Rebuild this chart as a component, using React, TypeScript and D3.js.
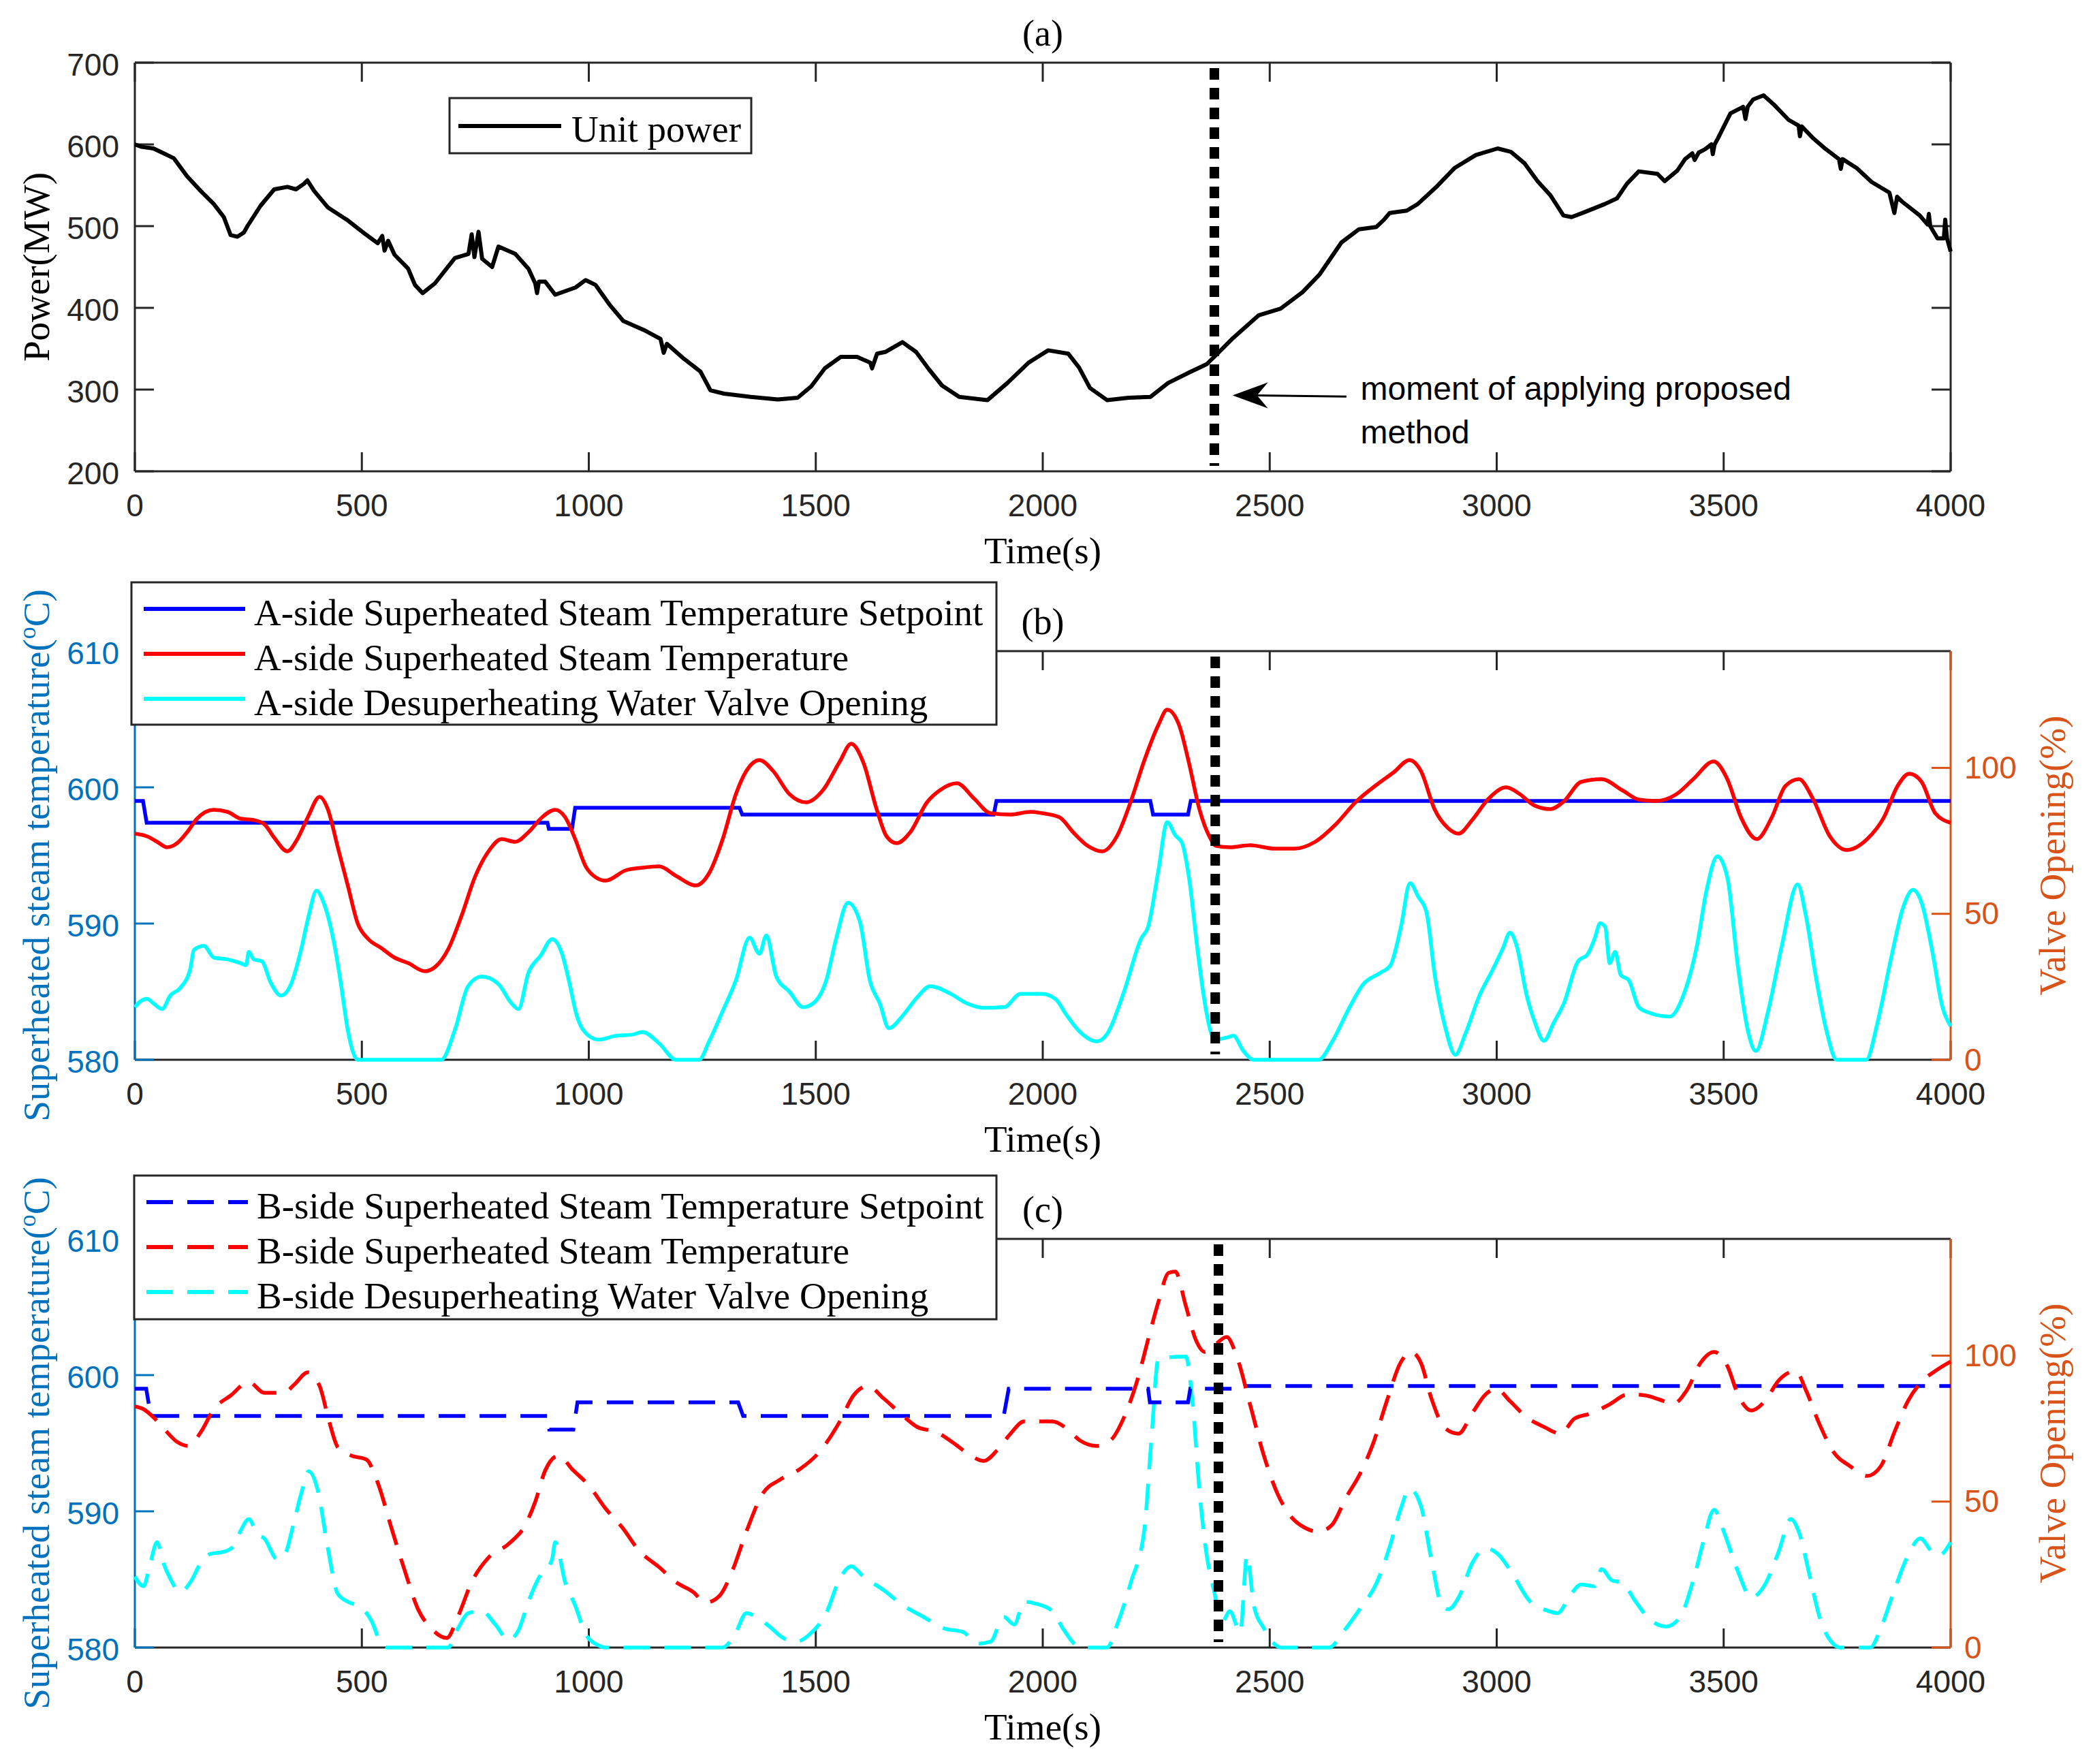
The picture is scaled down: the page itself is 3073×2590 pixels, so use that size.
import * as d3 from "d3";
import type { ReactNode } from "react";

type Pt = [number, number];

// ---- ticks ----
const timeTicks = [0, 500, 1000, 1500, 2000, 2500, 3000, 3500, 4000];
const powerTicks = [200, 300, 400, 500, 600, 700];
const tempTicks = [580, 590, 600, 610];
const valveTicks = [0, 50, 100];

// ---- (a) unit power, MW ----
const unitPower: Pt[] = [
  [0, 600], [15, 597], [41, 595], [60, 590], [86, 583], [115, 561], [145, 543], [174, 527], [196, 511],
  [211, 489], [226, 487], [240, 492], [248, 500], [277, 525], [307, 545], [336, 548], [355, 545], [373, 552],
  [380, 556], [395, 543], [425, 523], [469, 507], [506, 491], [535, 479], [545, 488], [550, 470], [558, 482],
  [572, 465], [602, 448], [617, 428], [634, 418], [661, 430], [705, 461], [735, 466], [742, 490], [748, 462],
  [757, 493], [765, 460], [787, 450], [801, 475], [838, 466], [867, 448], [882, 430], [886, 418], [890, 432],
  [904, 432], [926, 416], [971, 425], [993, 434], [1015, 428], [1047, 403], [1076, 384], [1121, 373],
  [1158, 362], [1165, 345], [1172, 356], [1209, 338], [1246, 322], [1268, 299], [1298, 295], [1357, 291],
  [1416, 288], [1460, 290], [1490, 304], [1520, 326], [1555, 340], [1591, 340], [1620, 333], [1624, 326],
  [1635, 344], [1653, 346], [1691, 358], [1721, 346], [1749, 325], [1778, 305], [1816, 291], [1878, 287],
  [1922, 308], [1969, 333], [2012, 348], [2056, 344], [2080, 327], [2104, 302], [2142, 287], [2189, 290],
  [2237, 291], [2276, 308], [2323, 321], [2361, 331], [2385, 344], [2419, 363], [2476, 391], [2524, 399],
  [2572, 419], [2610, 441], [2658, 480], [2696, 496], [2735, 499], [2752, 508], [2764, 516], [2802, 519],
  [2826, 527], [2869, 549], [2907, 571], [2954, 587], [3002, 595], [3031, 591], [3061, 577], [3090, 555],
  [3118, 538], [3147, 513], [3165, 511], [3193, 517], [3238, 527], [3265, 534], [3287, 552], [3313, 567],
  [3354, 564], [3370, 555], [3398, 568], [3415, 582], [3431, 589], [3436, 581], [3445, 590], [3459, 594],
  [3473, 600], [3476, 588], [3480, 600], [3487, 607], [3515, 638], [3543, 646], [3548, 631], [3553, 646],
  [3565, 655], [3588, 660], [3610, 649], [3643, 630], [3665, 623], [3668, 610], [3672, 622], [3698, 607],
  [3721, 596], [3754, 582], [3758, 570], [3762, 582], [3793, 571], [3826, 554], [3865, 541], [3876, 516],
  [3882, 536], [3893, 530], [3932, 513], [3949, 502], [3952, 515], [3955, 500], [3971, 485], [3985, 485],
  [3988, 508], [3992, 485], [4000, 469],
];

// ---- (b) A side ----
const setpointA: Pt[] = [
  [0, 599], [18, 599], [26, 597.4], [909, 597.4], [912, 596.95], [963, 596.95], [970, 598.5], [1332, 598.5],
  [1338, 598.0], [1892, 598.0], [1898, 599.0], [2237, 599.0], [2243, 598.0], [2320, 598.0], [2326, 599.0],
  [4000, 599.0],
];
const tempA: Pt[] = [
  [0, 596.6], [27, 596.4], [49, 596.0], [71, 595.6], [93, 595.9], [115, 596.7], [137, 597.7], [174, 598.35],
  [204, 598.2], [233, 597.7], [262, 597.6], [285, 597.3], [307, 596.3], [336, 595.3], [358, 596.2],
  [381, 597.8], [407, 599.3], [425, 598.4], [447, 595.6], [469, 592.8], [491, 590.0], [513, 588.9],
  [543, 588.2], [572, 587.5], [602, 587.1], [639, 586.5], [661, 586.8], [690, 588.1], [720, 590.6],
  [749, 593.4], [779, 595.3], [808, 596.2], [838, 596.0], [867, 596.7], [897, 597.8], [926, 598.35],
  [948, 597.8], [970, 596.2], [993, 594.2], [1015, 593.4], [1037, 593.15], [1081, 593.9], [1118, 594.1],
  [1155, 594.2], [1192, 593.5], [1236, 592.8], [1265, 593.7], [1295, 596.2], [1324, 599.5], [1347, 601.2],
  [1376, 602.0], [1406, 601.2], [1442, 599.5], [1479, 598.9], [1516, 599.8], [1553, 601.9], [1578, 603.2],
  [1605, 601.8], [1634, 598.4], [1656, 596.4], [1678, 595.9], [1708, 596.7], [1745, 598.9], [1774, 599.8],
  [1811, 600.3], [1848, 599.2], [1885, 598.1], [1929, 598.0], [1973, 598.2], [1999, 598.1], [2037, 597.8],
  [2067, 596.7], [2097, 595.75], [2131, 595.3], [2164, 596.45], [2194, 598.97], [2224, 602.0], [2255, 604.6],
  [2274, 605.7], [2300, 604.6], [2322, 601.8], [2345, 598.4], [2367, 596.4], [2382, 595.7], [2412, 595.6],
  [2457, 595.75], [2510, 595.5], [2555, 595.5], [2600, 596.0], [2646, 597.3], [2691, 598.97], [2736, 600.2],
  [2773, 601.1], [2808, 602.0], [2833, 601.2], [2863, 598.4], [2893, 597.0], [2916, 596.6], [2946, 597.6],
  [2983, 599.2], [3021, 600.0], [3051, 599.5], [3081, 598.7], [3118, 598.4], [3148, 598.97], [3186, 600.4],
  [3231, 600.6], [3276, 599.8], [3313, 599.1], [3351, 599.0], [3396, 599.5], [3433, 600.6], [3478, 601.9],
  [3508, 600.6], [3538, 597.8], [3573, 596.2], [3606, 597.8], [3636, 600.1], [3666, 600.6], [3696, 599.2],
  [3734, 596.4], [3771, 595.4], [3816, 596.2], [3853, 597.8], [3883, 600.1], [3909, 601.0], [3936, 600.4],
  [3966, 598.1], [4000, 597.4],
];
const valveA: Pt[] = [
  [0, 18.0], [12, 20.0], [27, 20.9], [41, 19.3], [60, 17.4], [78, 22.0], [100, 24.6], [122, 31.1], [130, 37.6],
  [152, 39.0], [174, 35.0], [204, 34.4], [233, 33.1], [245, 32.4], [251, 37.0], [262, 34.4], [280, 33.7],
  [299, 26.5], [322, 22.0], [344, 25.9], [366, 37.6], [383, 49.4], [400, 57.9], [417, 53.3], [440, 39.0],
  [454, 25.9], [469, 10.2], [491, 0], [675, 0], [705, 10.2], [734, 25.2], [764, 28.5], [801, 25.9],
  [830, 19.3], [845, 17.4], [867, 29.8], [894, 35.7], [919, 41.3], [941, 36.3], [956, 27.2], [973, 15.4],
  [1000, 8.2], [1022, 6.9], [1059, 8.2], [1096, 8.6], [1118, 9.5], [1155, 5.6], [1192, 0], [1243, 0],
  [1265, 6.3], [1295, 16.7], [1324, 27.2], [1354, 41.8], [1376, 36.3], [1391, 42.6], [1413, 28.5],
  [1442, 23.3], [1472, 18.0], [1494, 19.3], [1523, 27.2], [1545, 41.6], [1571, 53.8], [1597, 47.4],
  [1619, 27.2], [1641, 19.3], [1661, 10.8], [1693, 15.4], [1723, 21.3], [1752, 25.2], [1797, 22.6],
  [1833, 19.3], [1870, 17.8], [1915, 18.0], [1951, 22.6], [1999, 22.6], [2029, 20.7], [2052, 15.4],
  [2082, 9.5], [2119, 6.3], [2142, 8.9], [2179, 23.3], [2217, 41.6], [2232, 45.5], [2255, 65.1], [2274, 81.4],
  [2292, 76.9], [2307, 74.2], [2322, 62.5], [2342, 36.3], [2360, 16.7], [2379, 6.9], [2405, 7.6], [2420, 8.2],
  [2442, 3.0], [2465, 0], [2608, 0], [2638, 6.3], [2676, 18.0], [2706, 25.9], [2744, 29.8], [2766, 32.4],
  [2789, 45.5], [2809, 60.5], [2827, 55.9], [2845, 50.7], [2864, 28.5], [2886, 11.5], [2909, 1.7],
  [2931, 8.9], [2962, 22.0], [2992, 31.1], [3014, 38.3], [3029, 43.5], [3044, 39.0], [3066, 22.0],
  [3084, 12.8], [3104, 6.5], [3126, 12.8], [3148, 19.3], [3179, 33.7], [3201, 36.3], [3216, 41.6],
  [3228, 46.8], [3239, 45.5], [3249, 33.1], [3261, 37.0], [3273, 29.1], [3291, 27.2], [3313, 18.0],
  [3336, 16.1], [3381, 14.8], [3411, 22.0], [3441, 39.0], [3463, 58.6], [3486, 69.7], [3508, 62.5],
  [3531, 32.4], [3553, 10.2], [3571, 3.0], [3598, 16.7], [3628, 39.0], [3663, 60.1], [3681, 49.4],
  [3703, 28.5], [3726, 10.2], [3749, 0], [3814, 0], [3839, 12.8], [3869, 35.0], [3895, 52.0], [3917, 58.2],
  [3937, 53.3], [3959, 37.6], [3982, 18.0], [4000, 11.5],
];

// ---- (c) B side ----
const setpointB: Pt[] = [
  [0, 599], [25, 599], [35, 597], [911, 597], [913, 596], [966, 596], [975, 598], [1329, 598], [1340, 597],
  [1914, 597], [1925, 599], [2232, 599], [2236, 598], [2320, 598], [2325, 599], [2440, 599], [2445, 599.2],
  [4000, 599.2],
];
const tempB: Pt[] = [
  [0, 597.7], [19, 597.5], [41, 596.9], [63, 596.1], [93, 595.1], [118, 594.8], [145, 595.8], [174, 597.5],
  [211, 598.5], [251, 599.5], [285, 598.7], [329, 598.7], [351, 599.3], [381, 600.2], [407, 599.2],
  [428, 596.6], [447, 594.7], [476, 594.1], [510, 593.8], [535, 592.1], [565, 588.8], [594, 585.7],
  [624, 582.8], [653, 581.4], [687, 580.7], [712, 582.3], [742, 584.8], [779, 586.6], [823, 587.6],
  [860, 589.0], [882, 590.7], [904, 593.0], [934, 594.1], [963, 593.1], [1000, 591.9], [1037, 590.2],
  [1074, 588.8], [1111, 587.1], [1155, 585.9], [1192, 584.8], [1229, 584.1], [1258, 583.3], [1288, 583.8],
  [1317, 585.7], [1347, 588.5], [1383, 591.3], [1420, 592.3], [1465, 593.1], [1509, 594.4], [1553, 596.6],
  [1583, 598.5], [1615, 599.2], [1649, 598.3], [1686, 597.2], [1723, 596.2], [1767, 595.8], [1804, 595.0],
  [1841, 594.1], [1870, 593.7], [1900, 594.5], [1929, 595.7], [1959, 596.6], [1991, 596.6], [2021, 596.6],
  [2052, 596.1], [2082, 595.2], [2119, 594.8], [2149, 595.2], [2179, 596.9], [2209, 599.7], [2232, 602.6],
  [2255, 605.4], [2277, 607.5], [2292, 607.6], [2315, 605.1], [2337, 602.6], [2357, 601.7], [2382, 602.3],
  [2405, 602.8], [2427, 601.4], [2457, 597.8], [2487, 594.1], [2517, 591.3], [2547, 589.6], [2577, 588.8],
  [2607, 588.5], [2637, 589.0], [2668, 591.0], [2698, 592.7], [2728, 595.0], [2758, 598.1], [2788, 600.9],
  [2811, 601.7], [2833, 600.9], [2856, 598.3], [2886, 596.1], [2916, 595.7], [2946, 597.2], [2976, 598.6],
  [2999, 599.0], [3029, 598.1], [3066, 596.9], [3104, 596.2], [3141, 595.7], [3171, 596.8], [3209, 597.2],
  [3246, 597.8], [3291, 598.6], [3329, 598.5], [3359, 598.2], [3389, 597.9], [3419, 598.9], [3449, 600.9],
  [3479, 601.7], [3509, 600.6], [3531, 598.6], [3561, 597.4], [3591, 598.1], [3621, 599.6], [3659, 600.3],
  [3681, 598.9], [3711, 596.4], [3741, 594.4], [3779, 593.3], [3816, 592.6], [3846, 593.3], [3876, 595.8],
  [3906, 598.1], [3936, 599.5], [3966, 600.3], [4000, 601.0],
];
const valveB: Pt[] = [
  [0, 24.3], [19, 21.0], [34, 28.9], [49, 36.1], [63, 28.9], [78, 23.6], [100, 19.0], [122, 22.3], [145, 28.9],
  [167, 32.1], [196, 32.8], [218, 34.8], [233, 40.0], [251, 44.0], [270, 38.7], [285, 37.4], [314, 30.2],
  [329, 31.5], [351, 43.3], [366, 52.5], [383, 60.4], [403, 53.8], [425, 34.1], [447, 18.4], [469, 15.7],
  [498, 13.8], [521, 9.2], [543, 1.3], [558, 0], [690, 0], [712, 6.6], [735, 11.8], [764, 12.5], [794, 7.9],
  [823, 2.6], [845, 5.9], [867, 15.7], [889, 23.6], [919, 30.2], [926, 36.1], [948, 22.3], [970, 14.4],
  [993, 4.6], [1022, 0.7], [1037, 0], [1295, 0], [1324, 5.2], [1347, 11.8], [1369, 10.5], [1398, 7.2],
  [1428, 3.3], [1457, 2.0], [1487, 4.6], [1523, 11.8], [1553, 23.6], [1578, 27.8], [1605, 24.3],
  [1649, 19.7], [1693, 14.4], [1737, 10.5], [1782, 6.6], [1826, 5.2], [1855, 1.3], [1885, 2.0],
  [1914, 10.5], [1937, 7.9], [1959, 15.7], [1983, 15.1], [2021, 12.5], [2044, 6.6], [2074, 0.7], [2089, 0],
  [2142, 0], [2164, 7.9], [2194, 22.3], [2224, 40.7], [2239, 70.8], [2255, 99.1], [2315, 99.7], [2330, 84.0],
  [2345, 53.8], [2360, 32.8], [2375, 21.0], [2397, 9.2], [2412, 12.5], [2435, 5.2], [2450, 31.5],
  [2465, 14.4], [2487, 6.6], [2510, 1.3], [2525, 0], [2631, 0], [2661, 5.2], [2698, 13.1], [2736, 22.3],
  [2766, 35.4], [2788, 47.2], [2808, 54.4], [2833, 48.5], [2856, 30.2], [2879, 14.4], [2894, 13.1],
  [2916, 17.1], [2946, 28.9], [2976, 34.1], [3006, 31.5], [3036, 24.9], [3074, 15.7], [3104, 13.1],
  [3134, 11.8], [3164, 18.4], [3186, 21.6], [3216, 21.0], [3231, 26.9], [3254, 23.0], [3276, 22.3],
  [3306, 15.7], [3336, 9.8], [3374, 7.2], [3404, 10.5], [3434, 23.6], [3456, 36.7], [3479, 47.2],
  [3501, 39.4], [3531, 26.2], [3561, 17.1], [3591, 21.6], [3621, 32.8], [3648, 44.0], [3666, 39.4],
  [3689, 24.9], [3711, 10.5], [3741, 1.3], [3756, 0], [3823, 0], [3846, 6.6], [3876, 19.7], [3906, 31.5],
  [3933, 37.4], [3959, 32.8], [3974, 31.5], [4000, 36.1],
];

// moment of switching (s), per panel
const switchTimes = [2378, 2380, 2387];

// ---- layout ----
const W = 3073;
const H = 2590;
const LEFT = 198;
const RIGHT = 2864;
const PANEL_TOPS = [92, 956, 1819];
const PANEL_H = 600;
const TICK = 28;

const SANS = "'Liberation Sans', Arial, Helvetica, sans-serif";
const SERIF = "'Liberation Serif', 'Times New Roman', Times, serif";
const AXIS = "#262626";
const LEFT_C = "#0072BD";
const RIGHT_C = "#D95319";
const DASH = "39 21";

const x = d3.scaleLinear().domain([0, 4000]).range([LEFT, RIGHT]);

interface LegendItem {
  label: string;
  color: string;
  dash?: string;
}

function Legend({ x0, y0, w, h, items, rows, sample, textX, base }: {
  x0: number; y0: number; w: number; h: number; items: LegendItem[];
  rows: number[]; sample: [number, number]; textX: number; base: number;
}) {
  return (
    <g>
      <rect x={x0} y={y0} width={w} height={h} fill="#fff" stroke={AXIS} strokeWidth={3} />
      {items.map((it, i) => (
        <g key={it.label}>
          <line x1={x0 + sample[0]} x2={x0 + sample[1]} y1={y0 + rows[i]} y2={y0 + rows[i]}
            stroke={it.color} strokeWidth={6} strokeDasharray={it.dash} />
          <text x={x0 + textX} y={y0 + rows[i] + base} fontFamily={SERIF} fontSize={55} fill="#000">{it.label}</text>
        </g>
      ))}
    </g>
  );
}

function Frame({ top, title, yL, yLTicks, yLColor, yLLabel, yR, yRTicks, yRColor, yRLabel }: {
  top: number; title: string;
  yL: d3.ScaleLinear<number, number>; yLTicks: number[]; yLColor: string; yLLabel: ReactNode;
  yR: d3.ScaleLinear<number, number>; yRTicks: number[]; yRColor: string; yRLabel?: ReactNode;
}) {
  const bottom = top + PANEL_H;
  const cy = (top + bottom) / 2;
  return (
    <g>
      <line x1={LEFT} x2={RIGHT} y1={top} y2={top} stroke={AXIS} strokeWidth={3} />
      <line x1={LEFT} x2={RIGHT} y1={bottom} y2={bottom} stroke={AXIS} strokeWidth={3} />
      {timeTicks.map((t) => (
        <g key={t}>
          <line x1={x(t)} x2={x(t)} y1={bottom} y2={bottom - TICK} stroke={AXIS} strokeWidth={3} />
          <line x1={x(t)} x2={x(t)} y1={top} y2={top + TICK} stroke={AXIS} strokeWidth={3} />
          <text x={x(t)} y={bottom + 66} textAnchor="middle" fontFamily={SANS} fontSize={46} fill={AXIS}>{t}</text>
        </g>
      ))}
      <line x1={LEFT} x2={LEFT} y1={top} y2={bottom} stroke={yLColor} strokeWidth={3} />
      {yLTicks.map((v) => (
        <g key={v}>
          <line x1={LEFT} x2={LEFT + TICK} y1={yL(v)} y2={yL(v)} stroke={yLColor} strokeWidth={3} />
          <text x={LEFT - 23} y={yL(v)} dy="0.42em" textAnchor="end" fontFamily={SANS} fontSize={46} fill={yLColor}>{v}</text>
        </g>
      ))}
      <line x1={RIGHT} x2={RIGHT} y1={top} y2={bottom} stroke={yRColor} strokeWidth={3} />
      {yRTicks.map((v) => (
        <g key={v}>
          <line x1={RIGHT} x2={RIGHT - TICK} y1={yR(v)} y2={yR(v)} stroke={yRColor} strokeWidth={3} />
          {yRLabel && (
            <text x={RIGHT + 20} y={yR(v)} dy="0.34em" fontFamily={SANS} fontSize={46} fill={yRColor}>{v}</text>
          )}
        </g>
      ))}
      <text x={(LEFT + RIGHT) / 2} y={top - 25} textAnchor="middle" fontFamily={SERIF} fontSize={54} fill="#000">{title}</text>
      <text x={(LEFT + RIGHT) / 2} y={bottom + 135} textAnchor="middle" fontFamily={SERIF} fontSize={55} fill="#000">Time(s)</text>
      <text transform={`translate(72,${cy}) rotate(-90)`} textAnchor="middle" fontFamily={SERIF} fontSize={55} fill={yLColor === AXIS ? "#000" : yLColor}>{yLLabel}</text>
      {yRLabel && (
        <text transform={`translate(3032,${cy}) rotate(-90)`} textAnchor="middle" fontFamily={SERIF} fontSize={55} fill={yRColor}>{yRLabel}</text>
      )}
    </g>
  );
}

function SwitchLine({ t, top }: { t: number; top: number }) {
  return (
    <line x1={x(t)} x2={x(t)} y1={top + 8} y2={top + PANEL_H - 8} stroke="#000" strokeWidth={14} strokeDasharray="17 12" />
  );
}

const tempLabel = (
  <>
    Superheated steam temperature(<tspan fontSize={36} dy={-20}>o</tspan><tspan dy={20}>C)</tspan>
  </>
);

function PanelA() {
  const top = PANEL_TOPS[0];
  const y = d3.scaleLinear().domain([200, 700]).range([top + PANEL_H, top]);
  const line = d3.line<Pt>().x((d) => x(d[0])).y((d) => y(d[1]));
  const tip = [2418, 293];
  return (
    <g>
      <Frame top={top} title="(a)" yL={y} yLTicks={powerTicks} yLColor={AXIS} yLLabel="Power(MW)"
        yR={y} yRTicks={powerTicks} yRColor={AXIS} />
      <path d={line(unitPower) ?? ""} fill="none" stroke="#000" strokeWidth={6} strokeLinejoin="round" />
      <SwitchLine t={switchTimes[0]} top={top} />
      <line x1={x(2669)} y1={y(291.5)} x2={x(tip[0]) + 30} y2={y(tip[1])} stroke="#000" strokeWidth={3} />
      <path
        d={`M${x(tip[0])},${y(tip[1])} L${x(tip[0]) + 52},${y(tip[1]) - 19} L${x(tip[0]) + 36},${y(tip[1])} L${x(tip[0]) + 52},${y(tip[1]) + 19} Z`}
        fill="#000"
      />
      <text x={x(2700)} y={y(287.4)} fontFamily={SANS} fontSize={48} fill="#000">
        <tspan x={x(2700)}>moment of applying proposed</tspan>
        <tspan x={x(2700)} dy={64}>method</tspan>
      </text>
      <Legend x0={660} y0={144} w={443} h={81} items={[{ label: "Unit power", color: "#000" }]}
        rows={[41]} sample={[13, 164]} textX={179} base={23} />
    </g>
  );
}

function TempPanel({ idx, title, setpoint, temp, valve, dash, side }: {
  idx: number; title: string; setpoint: Pt[]; temp: Pt[]; valve: Pt[]; dash?: string; side: string;
}) {
  const top = PANEL_TOPS[idx];
  const yT = d3.scaleLinear().domain([580, 610]).range([top + PANEL_H, top]);
  const yV = d3.scaleLinear().domain([0, 140]).range([top + PANEL_H, top]);
  const lineStep = d3.line<Pt>().x((d) => x(d[0])).y((d) => yT(d[1]));
  const lineT = d3.line<Pt>().x((d) => x(d[0])).y((d) => yT(d[1])).curve(d3.curveMonotoneX);
  const lineV = d3.line<Pt>().x((d) => x(d[0])).y((d) => yV(d[1])).curve(d3.curveMonotoneX);
  const items: LegendItem[] = [
    { label: `${side}-side Superheated Steam Temperature Setpoint`, color: "#0000FF", dash },
    { label: `${side}-side Superheated Steam Temperature`, color: "#FF0000", dash },
    { label: `${side}-side Desuperheating Water Valve Opening`, color: "#00FFFF", dash },
  ];
  const box = idx === 1 ? { x0: 193, y0: 855, w: 1270, h: 209 } : { x0: 197, y0: 1726, w: 1266, h: 211 };
  return (
    <g>
      <Frame top={top} title={title} yL={yT} yLTicks={tempTicks} yLColor={LEFT_C} yLLabel={tempLabel}
        yR={yV} yRTicks={valveTicks} yRColor={RIGHT_C} yRLabel="Valve Opening(%)" />
      <path d={lineV(valve) ?? ""} fill="none" stroke="#00FFFF" strokeWidth={5.5} strokeDasharray={dash} />
      <path d={lineStep(setpoint) ?? ""} fill="none" stroke="#0000FF" strokeWidth={5.5} strokeDasharray={dash} />
      <path d={lineT(temp) ?? ""} fill="none" stroke="#FF0000" strokeWidth={5.5} strokeDasharray={dash} />
      <SwitchLine t={switchTimes[idx]} top={top} />
      <Legend {...box} items={items} rows={[39, 105, 171]} sample={[18, 167]} textX={180} base={24} />
    </g>
  );
}

export default function App() {
  return (
    <div style={{ position: "absolute", left: 0, top: 0, width: W, height: H, background: "#fff" }}>
      <svg width={W} height={H} viewBox={`0 0 ${W} ${H}`} style={{ display: "block" }}>
        <rect width={W} height={H} fill="#fff" />
        <PanelA />
        <TempPanel idx={1} title="(b)" setpoint={setpointA} temp={tempA} valve={valveA} side="A" />
        <TempPanel idx={2} title="(c)" setpoint={setpointB} temp={tempB} valve={valveB} dash={DASH} side="B" />
      </svg>
    </div>
  );
}
